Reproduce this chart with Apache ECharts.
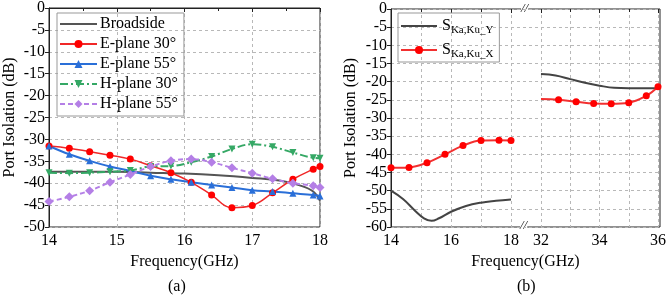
<!DOCTYPE html>
<html>
<head>
<meta charset="utf-8">
<script src="https://cdn.jsdelivr.net/npm/echarts@6/dist/echarts.min.js"></script>
<style>
  html, body { margin: 0; padding: 0; background: #fff; }
  #chart { width: 669px; height: 307px; }
</style>
</head>
<body>
<div id="chart"></div>
<script>
// (a) port isolation for different scan angles
var freqA = [14, 14.3, 14.6, 14.9, 15.2, 15.5, 15.8, 16.1, 16.4, 16.7, 17.0, 17.3, 17.6, 17.9, 18]
var ePlane30 = [-31.5, -32.0, -32.8, -33.6, -34.5, -36.0, -37.6, -39.8, -42.7, -45.6, -45.1, -42.2, -39.1, -36.8, -36.2]
var ePlane55 = [-31.5, -33.4, -34.9, -36.2, -37.2, -38.3, -39.1, -39.8, -40.4, -41.0, -41.6, -41.9, -42.3, -42.7, -42.9]
var hPlane30 = [-37.6, -37.7, -37.6, -37.4, -37.1, -36.2, -36.1, -35.2, -33.9, -32.2, -31.1, -31.7, -33.0, -34.2, -34.3]
var hPlane55 = [-44.2, -43.1, -41.7, -39.8, -38.0, -36.2, -34.9, -34.5, -35.2, -36.5, -37.7, -39.0, -40.0, -40.6, -41.0]
var freqBroad = [14, 14.5, 15, 15.5, 16, 16.5, 17, 17.4, 17.7, 17.9, 18]
var broadside = [-37.4, -37.4, -37.4, -37.6, -37.8, -38.2, -38.8, -39.4, -40.5, -41.9, -44.0]

// (b) Ka/Ku isolation, broken frequency axis
var freqKuY = [14, 14.4, 14.8, 15.1, 15.35, 15.6, 16, 16.5, 17, 17.5, 18]
var kuY = [-50.0, -52.3, -55.5, -57.6, -58.3, -57.6, -55.8, -54.2, -53.3, -52.8, -52.4]
var freqKuX = [14, 14.6, 15.2, 15.8, 16.4, 17.0, 17.6, 18]
var kuX = [-43.7, -43.6, -42.3, -40.0, -37.6, -36.2, -36.1, -36.2]
var freqKaY = [32, 32.5, 33, 33.5, 34, 34.5, 35, 35.5, 36]
var kaY = [-17.9, -18.3, -19.3, -20.3, -21.1, -21.7, -21.8, -21.8, -21.8]
var freqKaX = [32, 32.6, 33.2, 33.8, 34.4, 35.0, 35.6, 36]
var kaX = [-24.8, -25.0, -25.5, -26.0, -26.1, -25.8, -23.9, -21.4]

var legendA = ['Broadside', 'E-plane 30°', 'E-plane 55°', 'H-plane 30°', 'H-plane 55°']
var legendB = ['SY', 'SX']

function pairs(xs, ys) {
    return xs.map(function (x, i) { return [x, ys[i]] })
}

var FONT = 'Liberation Serif'
var gridLine = { show: true, lineStyle: { color: '#b8b8b8', type: [3, 3], width: 1 } }
var axisLine = { show: true, lineStyle: { color: '#222', width: 1 } }
var tickLabel = { color: '#000', fontFamily: FONT, fontSize: 16 }
// plain lines get no dot in the legend
var noDot = { opacity: 0 }

var chart = echarts.init(document.getElementById('chart'))

chart.setOption({
    animation: false,
    textStyle: { fontFamily: FONT },
    grid: [
        { left: 49, right: 349, top: 8, bottom: 80, show: true, borderColor: '#222', borderWidth: 1 },
        { left: 391, right: 9, top: 9, bottom: 80, show: true, borderColor: '#222', borderWidth: 1 },
        { left: 391, width: 120, top: 9, bottom: 80 },
        { left: 541, width: 119, top: 9, bottom: 80 }
    ],
    legend: [
        {
            data: legendA.map(function (n, i) { return i === 0 ? { name: n, itemStyle: noDot } : n }),
            orient: 'vertical',
            left: 57, top: 13,
            itemWidth: 37, itemHeight: 10, itemGap: 4,
            padding: [3, 6, 4, 2],
            borderColor: '#999', borderWidth: 1,
            textStyle: { color: '#000', fontFamily: FONT, fontSize: 16, lineHeight: 16, padding: [0, 0, 0, -2] }
        },
        {
            data: legendB.map(function (n, i) { return i === 0 ? { name: n, itemStyle: noDot } : n }),
            orient: 'vertical',
            left: 398, top: 13,
            itemWidth: 36, itemHeight: 10, itemGap: 4,
            padding: [3, 6, 2, 2],
            borderColor: '#999', borderWidth: 1,
            formatter: function (name) {
                return name === 'SY' ? '{s|S}{sub|Ka,Ku_Y}' : '{s|S}{sub|Ka,Ku_X}'
            },
            textStyle: {
                color: '#000', fontFamily: FONT,
                rich: {
                    s: { fontSize: 16, fontFamily: FONT, color: '#000', lineHeight: 20 },
                    sub: { fontSize: 11, fontFamily: FONT, color: '#000', lineHeight: 20, padding: [9, 0, 0, 0] }
                }
            }
        }
    ],
    xAxis: [
        {
            gridIndex: 0, type: 'value', min: 14, max: 18, interval: 1,
            name: 'Frequency(GHz)', nameLocation: 'middle', nameGap: 27,
            nameTextStyle: { color: '#000', fontFamily: FONT, fontSize: 16 },
            axisLine: axisLine,
            axisTick: { show: true, length: 4, lineStyle: { color: '#222' } },
            minorTick: { show: true, splitNumber: 2, length: 3, lineStyle: { color: '#222' } },
            axisLabel: Object.assign({ margin: 6 }, tickLabel),
            splitLine: gridLine
        },
        {
            gridIndex: 1, type: 'value', min: 0, max: 1,
            name: 'Frequency(GHz)', nameLocation: 'middle', nameGap: 27,
            nameTextStyle: { color: '#000', fontFamily: FONT, fontSize: 16 },
            axisLine: { show: false }, axisTick: { show: false },
            axisLabel: { show: false }, splitLine: { show: false }
        },
        {
            gridIndex: 2, type: 'value', min: 14, max: 18, interval: 2,
            axisLine: { show: false },
            axisTick: { show: true, length: 4, lineStyle: { color: '#222' } },
            minorTick: { show: true, splitNumber: 2, length: 3, lineStyle: { color: '#222' } },
            axisLabel: Object.assign({ margin: 6 }, tickLabel),
            splitLine: gridLine,
            minorSplitLine: gridLine
        },
        {
            gridIndex: 3, type: 'value', min: 32, max: 36, interval: 2,
            axisLine: { show: false },
            axisTick: { show: true, length: 4, lineStyle: { color: '#222' } },
            minorTick: { show: true, splitNumber: 2, length: 3, lineStyle: { color: '#222' } },
            axisLabel: Object.assign({ margin: 6 }, tickLabel),
            splitLine: gridLine,
            minorSplitLine: gridLine
        }
    ],
    yAxis: [
        {
            gridIndex: 0, type: 'value', min: -50, max: 0, interval: 5,
            name: 'Port Isolation (dB)', nameLocation: 'middle', nameGap: 31,
            nameTextStyle: { color: '#000', fontFamily: FONT, fontSize: 16 },
            axisLine: axisLine,
            axisTick: { show: true, length: 4, lineStyle: { color: '#222' } },
            axisLabel: Object.assign({ margin: 4 }, tickLabel),
            splitLine: gridLine
        },
        {
            gridIndex: 1, type: 'value', min: -60, max: 0, interval: 5,
            name: 'Port Isolation (dB)', nameLocation: 'middle', nameGap: 32,
            nameTextStyle: { color: '#000', fontFamily: FONT, fontSize: 16 },
            axisLine: axisLine,
            axisTick: { show: true, length: 4, lineStyle: { color: '#222' } },
            axisLabel: Object.assign({ margin: 4 }, tickLabel),
            splitLine: gridLine
        },
        { gridIndex: 2, type: 'value', min: -60, max: 0, show: false },
        { gridIndex: 3, type: 'value', min: -60, max: 0, show: false }
    ],
    series: [
        {
            name: 'Broadside', type: 'line', xAxisIndex: 0, yAxisIndex: 0,
            smooth: 0.4, showSymbol: false, symbol: 'none',
            lineStyle: { color: '#555', width: 2 }, itemStyle: { color: '#555' },
            data: pairs(freqBroad, broadside)
        },
        {
            name: 'E-plane 30°', type: 'line', xAxisIndex: 0, yAxisIndex: 0,
            smooth: 0.4, symbol: 'circle', symbolSize: 7,
            lineStyle: { color: '#f02828', width: 1.5 }, itemStyle: { color: '#ff0000' },
            data: pairs(freqA, ePlane30)
        },
        {
            name: 'E-plane 55°', type: 'line', xAxisIndex: 0, yAxisIndex: 0,
            smooth: 0.4, symbol: 'triangle', symbolSize: 7,
            lineStyle: { color: '#2a6fd8', width: 2 }, itemStyle: { color: '#2a6fd8' },
            data: pairs(freqA, ePlane55)
        },
        {
            name: 'H-plane 30°', type: 'line', xAxisIndex: 0, yAxisIndex: 0,
            smooth: 0.4, symbol: 'triangle', symbolRotate: 180, symbolSize: 7,
            lineStyle: { color: '#35a865', width: 2, type: [8, 3, 2, 3] }, itemStyle: { color: '#35a865' },
            data: pairs(freqA, hPlane30)
        },
        {
            name: 'H-plane 55°', type: 'line', xAxisIndex: 0, yAxisIndex: 0,
            smooth: 0.4, symbol: 'diamond', symbolSize: 9,
            lineStyle: { color: '#b47fe6', width: 2, type: [5, 3] }, itemStyle: { color: '#b47fe6' },
            data: pairs(freqA, hPlane55)
        },
        {
            name: 'SY', type: 'line', xAxisIndex: 2, yAxisIndex: 2,
            smooth: 0.4, showSymbol: false, symbol: 'none',
            lineStyle: { color: '#444', width: 2 }, itemStyle: { color: '#444' },
            data: pairs(freqKuY, kuY)
        },
        {
            name: 'SX', type: 'line', xAxisIndex: 2, yAxisIndex: 2,
            smooth: 0.4, symbol: 'circle', symbolSize: 7,
            lineStyle: { color: '#f23030', width: 2 }, itemStyle: { color: '#ff0000' },
            data: pairs(freqKuX, kuX)
        },
        {
            name: 'SY', type: 'line', xAxisIndex: 3, yAxisIndex: 3,
            smooth: 0.4, showSymbol: false, symbol: 'none',
            lineStyle: { color: '#444', width: 2 }, itemStyle: { color: '#444' },
            data: pairs(freqKaY, kaY)
        },
        {
            name: 'SX', type: 'line', xAxisIndex: 3, yAxisIndex: 3,
            smooth: 0.4, symbolSize: 7,
            symbol: function (v, p) { return p.dataIndex === 0 ? 'none' : 'circle' },
            lineStyle: { color: '#f23030', width: 2 }, itemStyle: { color: '#ff0000' },
            data: pairs(freqKaX, kaX)
        }
    ],
    graphic: [
        { type: 'text', left: 168, top: 279, style: { text: '(a)', font: '16px "Liberation Serif"', fill: '#000' } },
        { type: 'text', left: 517, top: 279, style: { text: '(b)', font: '16px "Liberation Serif"', fill: '#000' } },
        { type: 'text', left: 521, top: 2, style: { text: '//', font: 'italic 13px "Liberation Serif"', fill: '#222', backgroundColor: '#fff' } },
        { type: 'text', left: 520, top: 219, style: { text: '//', font: 'italic 13px "Liberation Serif"', fill: '#222', backgroundColor: '#fff' } }
    ]
})
</script>
</body>
</html>
